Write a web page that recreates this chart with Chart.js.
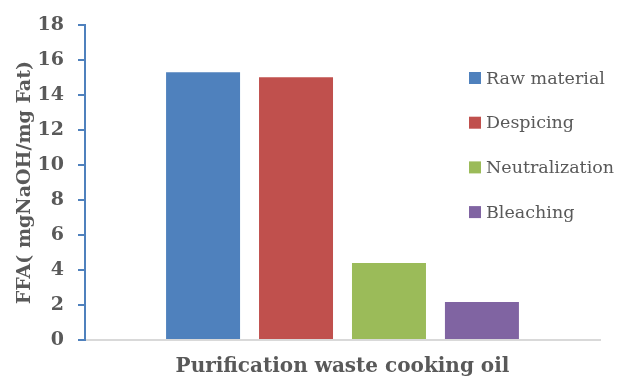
<!DOCTYPE html>
<html>
<head>
<meta charset="utf-8">
<script src="https://cdn.jsdelivr.net/npm/chart.js@4/dist/chart.umd.min.js"></script>
<style>
  html, body { margin: 0; padding: 0; background: #fff; }
  #wrap { width: 619px; height: 376px; position: relative; }
</style>
</head>
<body>
<div id="wrap"><canvas id="barChart"></canvas></div>
<script>
// data
var categories = [''];
var seriesNames = ['Raw material', 'Despicing', 'Neutralization', 'Bleaching'];
var seriesValues = [15.32, 15.03, 4.4, 2.18];
var seriesColors = ['#4F81BD', '#C0504D', '#9BBB59', '#8064A2'];
var yTicks = [0, 2, 4, 6, 8, 10, 12, 14, 16, 18];

var textColor = '#595959';
var serif = "'DejaVu Serif', serif";

// legend drawn inside the plot, like the original
var sideLegend = {
  id: 'sideLegend',
  afterDraw: function(chart){
    var ctx = chart.ctx;
    ctx.save();
    ctx.font = '17.5px ' + serif;
    ctx.textBaseline = 'middle';
    ctx.textAlign = 'left';
    for (var i = 0; i < seriesNames.length; i++) {
      var cy = 78 + i * 44.7;
      ctx.fillStyle = seriesColors[i];
      ctx.fillRect(469, cy - 6, 12, 12);
      ctx.fillStyle = textColor;
      ctx.fillText(seriesNames[i], 486, cy + 1);
    }
    ctx.restore();
  }
};

var datasets = seriesNames.map(function(name, i){
  return {
    label: name,
    data: [seriesValues[i]],
    backgroundColor: seriesColors[i],
    borderWidth: 0,
    barPercentage: 0.796,
    categoryPercentage: 0.722
  };
});

new Chart($id('barChart'), {
  type: 'bar',
  data: { labels: categories, datasets: datasets },
  options: {
    responsive: true,
    maintainAspectRatio: false,
    animation: false,
    layout: { padding: { top: 24, right: 19, left: 0, bottom: 0 } },
    plugins: {
      legend: { display: false },
      tooltip: { enabled: false }
    },
    scales: {
      x: {
        grid: { display: false },
        border: { display: true, color: '#D9D9D9', width: 2 },
        ticks: { display: false },
        title: {
          display: true,
          text: 'Purification waste cooking oil',
          color: textColor,
          font: { family: serif, size: 20, weight: 'bold', lineHeight: 0.9 },
          padding: { top: 0, bottom: 0 }
        },
        afterFit: function(s){ s.height = 36; }
      },
      y: {
        min: 0,
        max: 18,
        afterBuildTicks: function(s){
          s.ticks = yTicks.map(function(v){ return { value: v }; });
        },
        grid: {
          display: true,
          drawOnChartArea: false,
          drawTicks: true,
          tickLength: 7,
          color: '#4F81BD',
          lineWidth: 2
        },
        border: { display: true, color: '#4F81BD', width: 2 },
        ticks: {
          color: textColor,
          padding: 14,
          font: { family: serif, size: 19, weight: 'bold' }
        },
        title: {
          display: true,
          text: 'FFA( mgNaOH/mg Fat)',
          color: textColor,
          font: { family: serif, size: 19, weight: 'bold', lineHeight: 1.2 },
          padding: { top: 14, bottom: 0 }
        },
        afterFit: function(s){ s.width = 85; }
      }
    }
  },
  plugins: [sideLegend]
});

function $id(id){ return document.getElementById(id); }
</script>
</body>
</html>
